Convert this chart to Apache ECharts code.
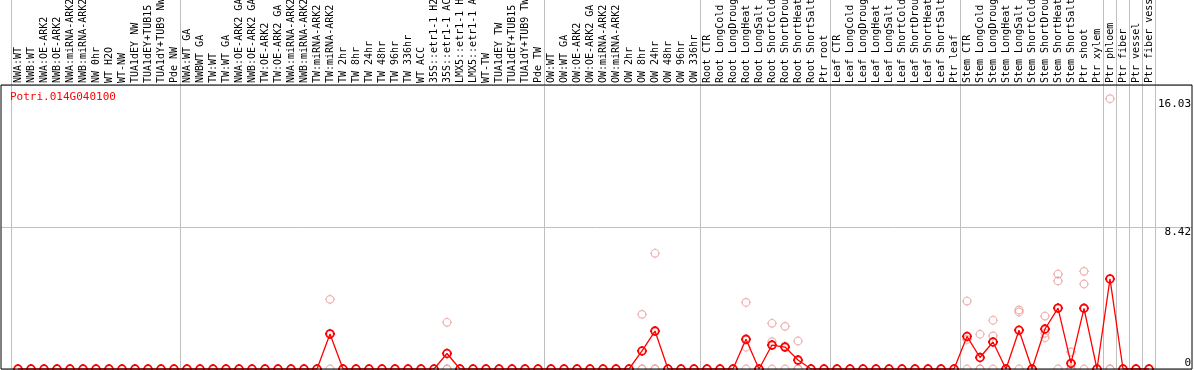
<!DOCTYPE html>
<html>
<head>
<meta charset="utf-8">
<script src="https://cdn.jsdelivr.net/npm/echarts@6/dist/echarts.min.js"></script>
<style>
  html, body { margin: 0; padding: 0; background: #fff; }
  #chartDiv { width: 1194px; height: 370px; }
</style>
</head>
<body>
<div id="chartDiv"></div>
<script>
// 样本名称 (88 个)
const samples = [
    "NWA:WT", "NWB:WT", "NWA:OE-ARK2", "NWB:OE-ARK2", "NWA:miRNA-ARK2", "NWB:miRNA-ARK2",
    "NW 0hr", "WT H2O", "WT-NW", "TUA1dEY NW", "TUA1dEY+TUB15 NW", "TUA1dY+TUB9 NW", "Pde NW",
    "NWA:WT GA", "NWBWT GA", "TW:WT", "TW:WT GA", "NWA:OE-ARK2 GA", "NWB:OE-ARK2 GA",
    "TW:OE-ARK2", "TW:OE-ARK2 GA", "NWA:miRNA-ARK2", "NWB:miRNA-ARK2", "TW:miRNA-ARK2", "TW:miRNA-ARK2",
    "TW 2hr", "TW 8hr", "TW 24hr", "TW 48hr", "TW 96hr", "TW 336hr", "WT ACC",
    "35S::etr1-1 H2O", "35S::etr1-1 ACC", "LMX5::etr1-1 H2O", "LMX5::etr1-1 ACC",
    "WT-TW", "TUA1dEY TW", "TUA1dEY+TUB15 TW", "TUA1dY+TUB9 TW", "Pde TW",
    "OW:WT", "OW:WT GA", "OW:OE-ARK2", "OW:OE-ARK2 GA", "OW:miRNA-ARK2", "OW:miRNA-ARK2",
    "OW 2hr", "OW 8hr", "OW 24hr", "OW 48hr", "OW 96hr", "OW 336hr",
    "Root CTR", "Root LongCold", "Root LongDrought", "Root LongHeat", "Root LongSalt",
    "Root ShortCold", "Root ShortDrought", "Root ShortHeat", "Root ShortSalt", "Ptr root",
    "Leaf CTR", "Leaf LongCold", "Leaf LongDrought", "Leaf LongHeat", "Leaf LongSalt",
    "Leaf ShortCold", "Leaf ShortDrought", "Leaf ShortHeat", "Leaf ShortSalt", "Ptr leaf",
    "Stem CTR", "Stem LongCold", "Stem LongDrought", "Stem LongHeat", "Stem LongSalt",
    "Stem ShortCold", "Stem ShortDrought", "Stem ShortHeat", "Stem ShortSalt", "Ptr shoot", "Ptr xylem",
    "Ptr phloem", "Ptr fiber", "Ptr vessel", "Ptr fiber vessel"
];

// 平均值 (红线)
const meanValues = [
    0, 0, 0, 0, 0, 0, 0, 0, 0, 0, 0, 0, 0,
    0, 0, 0, 0, 0, 0, 0, 0, 0, 0, 0, 2.08, 0, 0, 0, 0, 0, 0, 0, 0, 0.92, 0, 0, 0, 0, 0, 0, 0,
    0, 0, 0, 0, 0, 0, 0, 1.07, 2.25, 0, 0, 0,
    0, 0, 0, 1.76, 0, 1.42, 1.30, 0.53, 0, 0,
    0, 0, 0, 0, 0, 0, 0, 0, 0, 0,
    1.93, 0.68, 1.60, 0, 2.30, 0, 2.37, 3.61, 0.33, 3.60, 0,
    5.34, 0, 0, 0
];

// 三个重复 (浅红圆圈)
const rep1 = [
    0, 0, 0, 0, 0, 0, 0, 0, 0, 0, 0, 0, 0,
    0, 0, 0, 0, 0, 0, 0, 0, 0, 0, 0, 4.13, 0, 0, 0, 0, 0, 0, 0, 0, 2.77, 0, 0, 0, 0, 0, 0, 0,
    0, 0, 0, 0, 0, 0, 0, 3.24, 6.86, 0, 0, 0,
    0, 0, 0, 3.95, 0, 2.71, 2.53, 1.66, 0, 0,
    0, 0, 0, 0, 0, 0, 0, 0, 0, 0,
    4.03, 2.06, 2.89, 0, 3.50, 0, 3.14, 5.63, 1.01, 5.79, 0,
    16.03, 0, 0, 0
];
const rep2 = [
    0, 0, 0, 0, 0, 0, 0, 0, 0, 0, 0, 0, 0,
    0, 0, 0, 0, 0, 0, 0, 0, 0, 0, 0, 2.10, 0, 0, 0, 0, 0, 0, 0, 0, 0, 0, 0, 0, 0, 0, 0, 0,
    0, 0, 0, 0, 0, 0, 0, 0, 0, 0, 0, 0,
    0, 0, 0, 1.29, 0, 1.62, 1.37, 0, 0, 0,
    0, 0, 0, 0, 0, 0, 0, 0, 0, 0,
    1.75, 0, 1.96, 0, 3.38, 0, 2.12, 5.22, 0, 5.04, 0,
    0, 0, 0, 0
];
const rep3 = [
    0, 0, 0, 0, 0, 0, 0, 0, 0, 0, 0, 0, 0,
    0, 0, 0, 0, 0, 0, 0, 0, 0, 0, 0, 0, 0, 0, 0, 0, 0, 0, 0, 0, 0, 0, 0, 0, 0, 0, 0, 0,
    0, 0, 0, 0, 0, 0, 0, 0, 0, 0, 0, 0,
    0, 0, 0, 0, 0, 0, 0, 0, 0, 0,
    0, 0, 0, 0, 0, 0, 0, 0, 0, 0,
    0, 0, 0, 0, 0, 0, 1.86, 0, 0, 0, 0,
    0, 0, 0, 0
];

// 分组起点 (灰色竖线)
const groupStarts = [0, 13, 41, 53, 63, 73, 84, 85, 86, 87];
const yLabels = [8.42, 16.03];
const yMax = 16.84;
const geneName = "Potri.014G040100";

const font = "DejaVu Sans Mono";
// 圆圈 + 四个小刻度
const markSymbol = "path://M0,-5L0,-3.8M0,3.8L0,5M-5,0L-3.8,0M3.8,0L5,0" +
    "M3.8,0C3.8,2.1,2.1,3.8,0,3.8C-2.1,3.8,-3.8,2.1,-3.8,0" +
    "C-3.8,-2.1,-2.1,-3.8,0,-3.8C2.1,-3.8,3.8,-2.1,3.8,0Z";

let chart = echarts.init(document.getElementById("chartDiv"));

function groupLine(index) {
    return groupStarts.indexOf(index) >= 0;
}

let repData = [];
[rep1, rep2, rep3].forEach(function (rep) {
    rep.forEach(function (v, i) {
        repData.push([i, v]);
    });
});

chart.setOption({
    animation: false,
    title: {
        text: geneName,
        left: 10,
        top: 92,
        padding: 0,
        textStyle: { color: "#ff0000", fontSize: 11, fontWeight: "normal", fontFamily: font },
    },
    grid: [
        { left: 11.5, width: 1144, top: 85, bottom: 1, outerBoundsMode: "none" },
        { left: 11.5, width: 1144, top: 0, height: 85, outerBoundsMode: "none" },
        { left: 1, right: 2, top: 85, bottom: 1, show: true, borderColor: "#000", borderWidth: 1, z: 10, outerBoundsMode: "none" },
    ],
    xAxis: [
        {
            gridIndex: 0,
            type: "category",
            data: samples,
            position: "top",
            boundaryGap: true,
            axisLine: { show: false },
            axisTick: { show: false },
            axisLabel: {
                interval: 0,
                rotate: 90,
                margin: 2,
                hideOverlap: false,
                color: "#000",
                fontSize: 10,
                fontFamily: font,
            },
            splitLine: { show: true, interval: groupLine, lineStyle: { color: "#c0c0c0", width: 1 } },
        },
        {
            gridIndex: 1,
            type: "category",
            data: samples,
            boundaryGap: true,
            axisLine: { show: false },
            axisTick: { show: false },
            axisLabel: { show: false },
            splitLine: { show: true, interval: groupLine, lineStyle: { color: "#c0c0c0", width: 1 } },
        },
        { gridIndex: 2, type: "value", show: false },
    ],
    yAxis: [
        { gridIndex: 0, type: "value", min: 0, max: yMax, show: false },
        { gridIndex: 1, type: "value", min: 0, max: 1, show: false },
        {
            gridIndex: 2,
            type: "value",
            min: 0,
            max: yMax,
            interval: 8.42,
            position: "right",
            axisLine: { show: false },
            axisTick: { show: false },
            splitLine: { show: true, lineStyle: { color: "#c0c0c0", width: 1 } },
            axisLabel: {
                inside: true,
                margin: 1,
                customValues: yLabels,
                verticalAlign: "top",
                color: "#000",
                fontSize: 11,
                fontFamily: font,
                formatter: function (v) { return String(v); },
            },
        },
        {
            gridIndex: 2,
            type: "value",
            min: 0,
            max: yMax,
            position: "right",
            axisLine: { show: false },
            axisTick: { show: false },
            splitLine: { show: false },
            axisLabel: {
                inside: true,
                margin: 1,
                customValues: [0],
                verticalAlign: "bottom",
                color: "#000",
                fontSize: 11,
                fontFamily: font,
            },
        },
    ],
    series: [
        {
            name: "replicates",
            type: "scatter",
            xAxisIndex: 0,
            yAxisIndex: 0,
            data: repData,
            symbol: markSymbol,
            symbolSize: 10,
            z: 1,
            itemStyle: { color: "rgba(0,0,0,0)", borderColor: "#ee9f9f", borderWidth: 1.2 },
        },
        {
            name: "mean",
            type: "line",
            xAxisIndex: 0,
            yAxisIndex: 0,
            data: meanValues,
            symbol: markSymbol,
            symbolSize: 10,
            showAllSymbol: true,
            z: 3,
            lineStyle: { color: "#ff0000", width: 1.3 },
            itemStyle: { color: "rgba(0,0,0,0)", borderColor: "#ff0000", borderWidth: 1.8 },
        },
    ],
});

window.onresize = function () {
    chart.resize();
};
</script>
</body>
</html>
